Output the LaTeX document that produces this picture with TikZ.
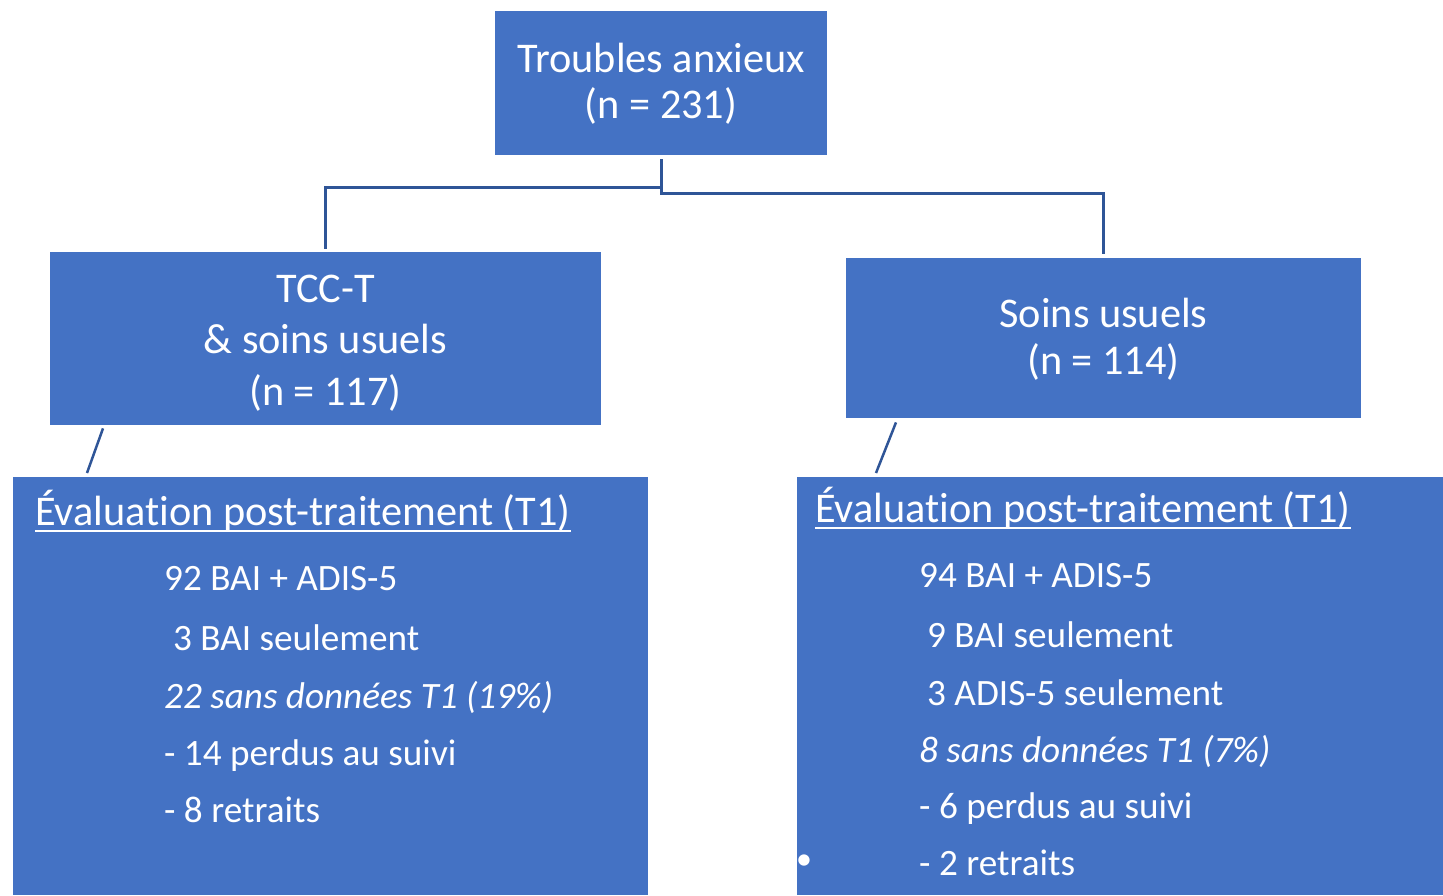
\documentclass[tikz,border=0pt]{standalone}
\usepackage{fontspec}
\setmainfont[Ligatures=NoCommon]{Carlito}
\usetikzlibrary{calc}
\definecolor{boxblue}{HTML}{4472C4}
\definecolor{lineblue}{HTML}{2F5597}
\tikzset{
  bluebox/.style={fill=boxblue, draw=none, rectangle, inner sep=0pt, anchor=north west},
  bigtxt/.style={text=white, inner sep=0pt, anchor=base, font=\fontsize{42.3}{46}\selectfont},
  headtxt/.style={text=white, inner sep=0pt, anchor=base west, font=\fontsize{42.3}{46}\selectfont},
  itemtxt/.style={text=white, inner sep=0pt, anchor=base west, font=\fontsize{37.2}{42}\selectfont},
  conn/.style={draw=lineblue, line width=3pt},
  uline/.style={draw=white, line width=2.5pt}
}
\begin{document}
\begin{tikzpicture}[x=1pt, y=-1pt]
\useasboundingbox (0,0) rectangle (1443,895);

% boxes
\node[bluebox, minimum width=332pt, minimum height=144pt] (top) at (495,11) {};
\node[bluebox, minimum width=551pt, minimum height=173pt] (tcc) at (50,252) {};
\node[bluebox, minimum width=515pt, minimum height=160pt] (soins) at (846,258) {};
\node[bluebox, minimum width=635pt, minimum height=418pt] (evalL) at (13,477) {};
\node[bluebox, minimum width=646pt, minimum height=418pt] (evalR) at (797,477) {};

% box titles
\node[bigtxt] (t1) at (661,72) {Troubles anxieux};
\node[bigtxt] (t2) at (661,118) {(n = 231)};
\node[bigtxt] (c1) at (325.5,302) {TCC-T};
\node[bigtxt] (c2) at (325.5,353) {\& soins usuels};
\node[bigtxt] (c3) at (325.5,405) {(n = 117)};
\node[bigtxt] (s1) at (1103.5,327) {Soins usuels};
\node[bigtxt] (s2) at (1103.5,374) {(n = 114)};

% connectors
\draw[conn, shorten <=4pt, shorten >=3pt] (top.south) -- ($(top.south)+(0,32)$) -| (tcc.north);
\draw[conn, shorten <=4pt, shorten >=4pt] (top.south) -- ($(top.south)+(0,38)$) -| (soins.north);
\draw[conn, line width=2.5pt] ($(tcc.south west)+(53,3)$) -- ($(evalL.north west)+(74,-4)$);
\draw[conn, line width=2.5pt] ($(soins.south west)+(50,4)$) -- ($(evalR.north west)+(79,-4)$);

% left evaluation box
\node[headtxt] (hl) at (35,525) {Évaluation post-traitement (T1)};
\draw[uline] ($(hl.base west)+(0,6)$) -- ($(hl.base east)+(0,6)$);
\node[itemtxt] (l1) at (164,590) {92 BAI + ADIS-5};
\node[itemtxt] (l2) at (173,650) {3 BAI seulement};
\node[itemtxt, font=\fontsize{37.2}{42}\selectfont\itshape] (l3) at (164,708) {22 sans données T1 (19\%)};
\node[itemtxt] (l4) at (164,765) {- 14 perdus au suivi};
\node[itemtxt] (l5) at (164,822) {- 8 retraits};

% right evaluation box
\node[headtxt] (hr) at (815,522) {Évaluation post-traitement (T1)};
\draw[uline] ($(hr.base west)+(0,6)$) -- ($(hr.base east)+(0,6)$);
\node[itemtxt] (r1) at (919,587) {94 BAI + ADIS-5};
\node[itemtxt] (r2) at (927,647) {9 BAI seulement};
\node[itemtxt] (r3) at (927,705) {3 ADIS-5 seulement};
\node[itemtxt, font=\fontsize{37.2}{42}\selectfont\itshape] (r4) at (919,762) {8 sans données T1 (7\%)};
\node[itemtxt] (r5) at (919,818) {- 6 perdus au suivi};
\node[itemtxt] (r6) at (919,875) {- 2 retraits};
\node[text=white, inner sep=0pt, anchor=center, font=\fontsize{32}{36}\selectfont] (bul) at (804,862) {•};
\end{tikzpicture}
\end{document}
